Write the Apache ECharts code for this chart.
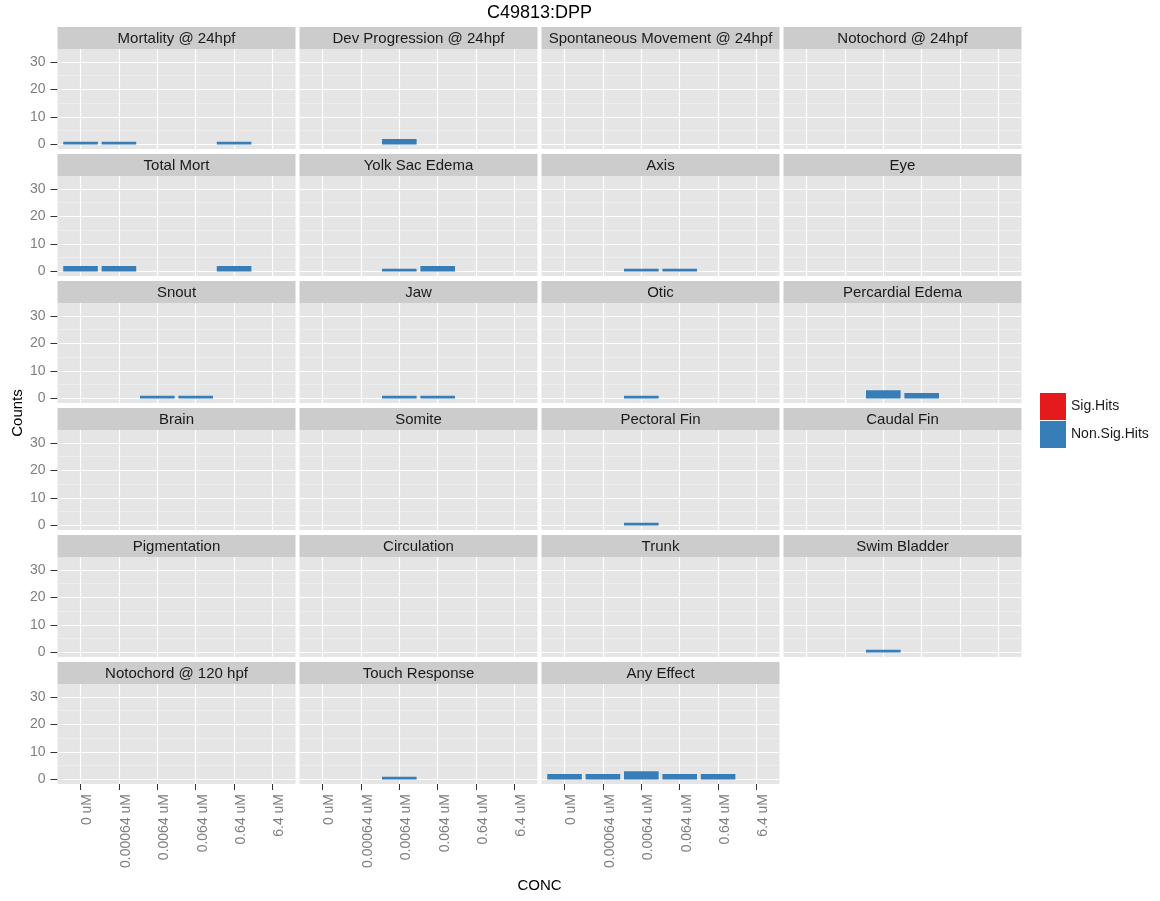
<!DOCTYPE html>
<html>
<head>
<meta charset="utf-8">
<script src="https://cdn.jsdelivr.net/npm/echarts@6/dist/echarts.min.js"></script>
<style>
html, body { margin: 0; background: #fff; }
#chart { width: 1160px; height: 901px; }
</style>
</head>
<body>
<div id="chart"></div>
<script>
// C49813:DPP - counts per endpoint, faceted
const concs = ['0 uM', '0.00064 uM', '0.0064 uM', '0.064 uM', '0.64 uM', '6.4 uM']
const endpoints = [
  'Mortality @ 24hpf', 'Dev Progression @ 24hpf', 'Spontaneous Movement @ 24hpf', 'Notochord @ 24hpf',
  'Total Mort', 'Yolk Sac Edema', 'Axis', 'Eye',
  'Snout', 'Jaw', 'Otic', 'Percardial Edema',
  'Brain', 'Somite', 'Pectoral Fin', 'Caudal Fin',
  'Pigmentation', 'Circulation', 'Trunk', 'Swim Bladder',
  'Notochord @ 120 hpf', 'Touch Response', 'Any Effect'
]
// one row per endpoint, one value per concentration
const nonSigHits = [
  [1, 1, 0, 0, 1, 0], [0, 0, 2, 0, 0, 0], [0, 0, 0, 0, 0, 0], [0, 0, 0, 0, 0, 0],
  [2, 2, 0, 0, 2, 0], [0, 0, 1, 2, 0, 0], [0, 0, 1, 1, 0, 0], [0, 0, 0, 0, 0, 0],
  [0, 0, 1, 1, 0, 0], [0, 0, 1, 1, 0, 0], [0, 0, 1, 0, 0, 0], [0, 0, 3, 2, 0, 0],
  [0, 0, 0, 0, 0, 0], [0, 0, 0, 0, 0, 0], [0, 0, 1, 0, 0, 0], [0, 0, 0, 0, 0, 0],
  [0, 0, 0, 0, 0, 0], [0, 0, 0, 0, 0, 0], [0, 0, 0, 0, 0, 0], [0, 0, 1, 0, 0, 0],
  [0, 0, 0, 0, 0, 0], [0, 0, 1, 0, 0, 0], [2, 2, 3, 2, 2, 0]
]
const sigHits = endpoints.map(() => [0, 0, 0, 0, 0, 0])
const yTicks = [0, 10, 20, 30]
const yMinor = [5, 15, 25]

const FONT = '"Liberation Sans", Arial, sans-serif'
const colLeft = [57.5, 299.5, 541.5, 783.5]
const panelW = 238
const stripH = 22
const plotH = 100
const rowStep = 127
const top0 = 27

const chart = echarts.init(document.getElementById('chart'), null, { renderer: 'canvas' })

const grids = [], xAxes = [], yAxes = [], series = [], graphics = []
const xIdx = concs.map((_, k) => k)

endpoints.forEach((name, i) => {
  const r = Math.floor(i / 4), c = i % 4
  const stripTop = top0 + r * rowStep
  const bottomRow = i >= endpoints.length - 3
  grids.push({
    left: colLeft[c], top: stripTop + stripH, width: panelW, height: plotH,
    show: true, backgroundColor: '#e5e5e5', borderWidth: 0
  })
  xAxes.push({
    type: 'value', gridIndex: i, min: -0.6, max: 5.6, position: 'bottom',
    axisLine: { show: false, onZero: false },
    splitLine: { show: false },
    axisTick: { show: bottomRow, customValues: xIdx, length: 6, lineStyle: { color: '#333', width: 1 } },
    axisLabel: {
      show: bottomRow, customValues: xIdx, formatter: v => concs[v],
      rotate: 90, margin: 10, verticalAlign: 'top',
      color: '#7f7f7f', fontSize: 14, fontFamily: FONT
    }
  })
  yAxes.push({
    type: 'value', gridIndex: i, min: -1.65, max: 34.65, position: 'left',
    axisLine: { show: false, onZero: false },
    splitLine: { show: false },
    axisTick: { show: c === 0, customValues: yTicks, length: 7, lineStyle: { color: '#333', width: 1 } },
    axisLabel: { show: c === 0, customValues: yTicks, margin: 12, color: '#7f7f7f', fontSize: 14, fontFamily: FONT }
  })
  series.push({
    type: 'bar', name: 'Sig.Hits', xAxisIndex: i, yAxisIndex: i, stack: 's' + i,
    barWidth: 34.6, z: 3,
    itemStyle: { color: '#E41A1C' },
    data: sigHits[i].map((v, k) => [k, v]),
    markLine: {
      silent: true, symbol: 'none', animation: false,
      label: { show: false },
      lineStyle: { color: '#ffffff', type: 'solid', width: 1.2 },
      emphasis: { disabled: true },
      data: [
        ...yTicks.map(v => ({ yAxis: v })),
        ...yMinor.map(v => ({ yAxis: v, lineStyle: { color: '#f2f2f2', width: 0.6, type: 'solid' } })),
        ...xIdx.map(k => ({ xAxis: k }))
      ]
    }
  })
  series.push({
    type: 'bar', name: 'Non.Sig.Hits', xAxisIndex: i, yAxisIndex: i, stack: 's' + i,
    barWidth: 34.6, z: 10,
    itemStyle: { color: '#377EB8' },
    data: nonSigHits[i].map((v, k) => [k, v])
  })
  graphics.push({
    type: 'rect', silent: true,
    shape: { x: colLeft[c], y: stripTop, width: panelW, height: stripH },
    style: { fill: '#cccccc' }
  })
  graphics.push({
    type: 'text', silent: true, x: colLeft[c] + panelW / 2, y: stripTop + stripH / 2 + 1,
    style: { text: name, fill: '#1a1a1a', font: '15px ' + FONT, align: 'center', verticalAlign: 'middle' }
  })
})

graphics.push({
  type: 'text', silent: true, x: 539.5, y: 13,
  style: { text: 'C49813:DPP', fill: '#000', font: '18px ' + FONT, align: 'center', verticalAlign: 'middle' }
})
graphics.push({
  type: 'text', silent: true, x: 18, y: 413, rotation: Math.PI / 2,
  style: { text: 'Counts', fill: '#000', font: '15px ' + FONT, align: 'center', verticalAlign: 'middle' }
})
graphics.push({
  type: 'text', silent: true, x: 539.5, y: 886,
  style: { text: 'CONC', fill: '#000', font: '15px ' + FONT, align: 'center', verticalAlign: 'middle' }
})

const options = {
  animation: false,
  grid: grids,
  xAxis: xAxes,
  yAxis: yAxes,
  series: series,
  legend: {
    orient: 'vertical', left: 1040, top: 393, padding: 0,
    itemWidth: 26, itemHeight: 27, itemGap: 1, icon: 'rect',
    selectedMode: false,
    data: ['Sig.Hits', 'Non.Sig.Hits'],
    textStyle: { color: '#1a1a1a', fontSize: 14, fontFamily: FONT }
  },
  graphic: graphics
}
chart.setOption(options)
</script>
</body>
</html>
